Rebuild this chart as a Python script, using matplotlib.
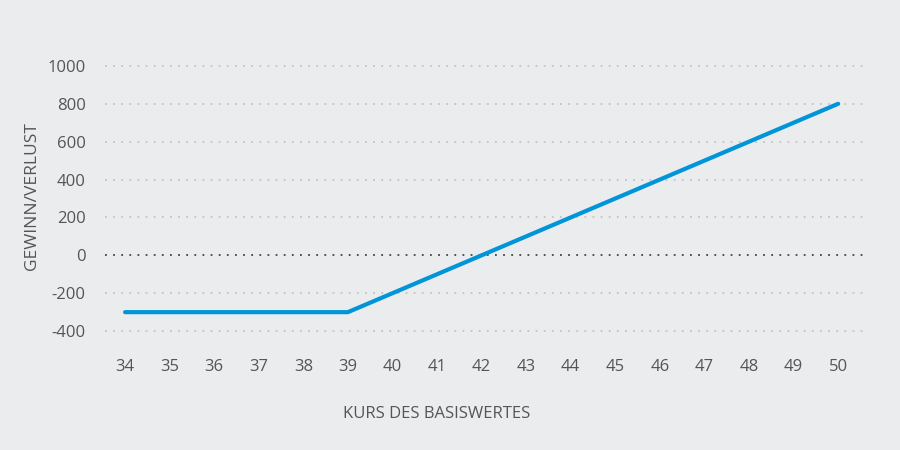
import matplotlib.pyplot as plt

kurs = [34, 39, 50]
gewinn = [-300, -300, 800]
x_ticks = list(range(34, 51))
y_ticks = [-400, -200, 0, 200, 400, 600, 800, 1000]

bg = '#ebeced'
txt = '#555555'
plt.rcParams['font.family'] = ['Open Sans', 'DejaVu Sans']
plt.rcParams['axes.unicode_minus'] = False

fig = plt.figure(figsize=(9, 4.5), dpi=100, facecolor=bg)
ax = fig.add_axes([105 / 900, 1 - 340 / 450, 763 / 900, 283 / 450])
ax.set_facecolor(bg)

ax.plot(kurs, gewinn, color='#0095d9', lw=3, solid_capstyle='round', zorder=3)

ax.set_xlim(33.55, 50.67)
ax.set_ylim(-447, 1047)
ax.set_xticks(x_ticks)
ax.set_yticks(y_ticks)
for y in y_ticks:
    if y == 0:
        ax.plot([33.55, 50.67], [0, 0], color='#444444', lw=1.3, ls=(0, (1, 3.5)), zorder=2)
    else:
        ax.plot([33.55, 50.67], [y, y], color='#c4c4c4', lw=1.3, ls=(0, (1, 3.5)), zorder=1)

for s in ax.spines.values():
    s.set_visible(False)
ax.tick_params(length=0, colors=txt, labelsize=12)
ax.tick_params(axis='x', pad=14)
ax.tick_params(axis='y', pad=14)

# Achsentitel frei platziert
fig.text(437 / 900, 1 - 414 / 450, 'KURS DES BASISWERTES', color=txt, fontsize=12,
         ha='center', va='center')
fig.text(32 / 900, 1 - 196 / 450, 'GEWINN/VERLUST', color=txt, fontsize=12.5,
         ha='center', va='center', rotation=90)

fig.savefig('out.png', dpi=100, facecolor=bg)
